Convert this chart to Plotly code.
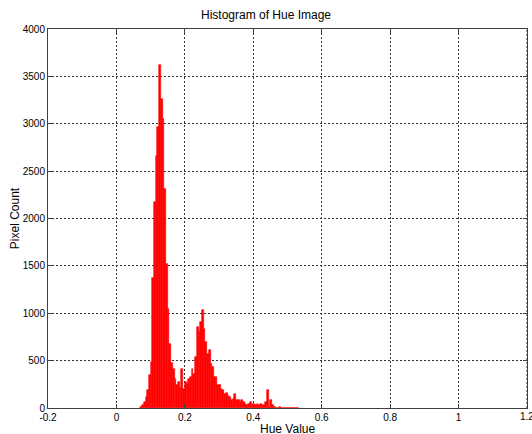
import plotly.graph_objects as go

# Histogram data
bin_start = 0.07
bin_width = 0.005
pixel_counts = [
    12, 27, 62, 115, 186, 344, 485, 1370, 2175, 2655,
    2965, 3615, 3265, 3055, 2315, 1525, 1040, 680, 470, 415,
    310, 240, 275, 215, 415, 205, 275, 255, 310, 325,
    415, 360, 540, 855, 800, 905, 1030, 837, 696, 573,
    608, 468, 432, 326, 326, 239, 239, 204, 186, 151,
    160, 125, 115, 80, 98, 151, 80, 80, 62, 80,
    62, 45, 28, 45, 62, 28, 45, 28, 45, 28,
    45, 28, 35, 62, 193, 10, 85, 28, 10, 5,
    5, 8, 4, 3, 2, 4, 3, 1, 1, 0,
    1, 4, 3,
]
bin_centers = [bin_start + bin_width * (i + 0.5) for i in range(len(pixel_counts))]

x_ticks = [-0.2, 0, 0.2, 0.4, 0.6, 0.8, 1, 1.2]
x_tick_labels = ["-0.2", "0", "0.2", "0.4", "0.6", "0.8", "1", "1.2"]
y_ticks = [0, 500, 1000, 1500, 2000, 2500, 3000, 3500, 4000]

fig = go.Figure(
    go.Bar(
        x=bin_centers,
        y=pixel_counts,
        width=bin_width,
        marker=dict(color="#ff0000", line=dict(color="#ff0000", width=0.6)),
        hoverinfo="x+y",
    )
)

font_family = "Liberation Sans, Arial, sans-serif"
axis_common = dict(
    showline=True,
    linecolor="#404040",
    linewidth=1,
    mirror="ticks",
    ticks="inside",
    ticklen=4,
    tickcolor="#404040",
    showgrid=True,
    gridcolor="#333333",
    griddash="2px,2px",
    gridwidth=1,
    zeroline=False,
    tickfont=dict(family=font_family, size=10, color="#000000"),
)

fig.update_layout(
    width=532,
    height=434,
    margin=dict(l=48, r=5, t=29, b=26, autoexpand=False),
    paper_bgcolor="#ffffff",
    plot_bgcolor="#ffffff",
    bargap=0,
    showlegend=False,
    title=dict(
        text="Histogram of Hue Image",
        x=0.5,
        xanchor="center",
        y=0.965,
        yanchor="middle",
        font=dict(family=font_family, size=12, color="#000000"),
    ),
    xaxis=dict(
        range=[-0.2, 1.2],
        tickvals=x_ticks[:-1],
        ticktext=x_tick_labels[:-1],
        **axis_common,
    ),
    yaxis=dict(
        range=[0, 4000],
        tickvals=y_ticks,
        title=dict(text="Pixel Count", standoff=0,
                   font=dict(family=font_family, size=12, color="#000000")),
        **axis_common,
    ),
)

# x axis title, placed as in the reference (just above the bottom edge)
fig.add_annotation(
    x=0.5, xref="paper", y=0, yref="paper",
    text="Hue Value", showarrow=False,
    xanchor="center", yanchor="top", yshift=-12,
    font=dict(family=font_family, size=12, color="#000000"),
)

# last x tick label sits at the right edge of the canvas in the reference
fig.add_annotation(
    x=x_ticks[-1], xref="x", y=0, yref="paper",
    text=x_tick_labels[-1], showarrow=False,
    xanchor="center", yanchor="top", yshift=-1,
    font=dict(family=font_family, size=10, color="#000000"),
)
fig.add_shape(
    type="line", xref="x", yref="paper", x0=x_ticks[-1], x1=x_ticks[-1],
    y0=0, y1=1, line=dict(color="#333333", width=1, dash="2px,2px"), layer="below",
)

fig.write_html(
    "out.html",
    config={"displayModeBar": False},
    post_script="document.body.style.margin='0px';document.body.style.padding='0px';",
)
